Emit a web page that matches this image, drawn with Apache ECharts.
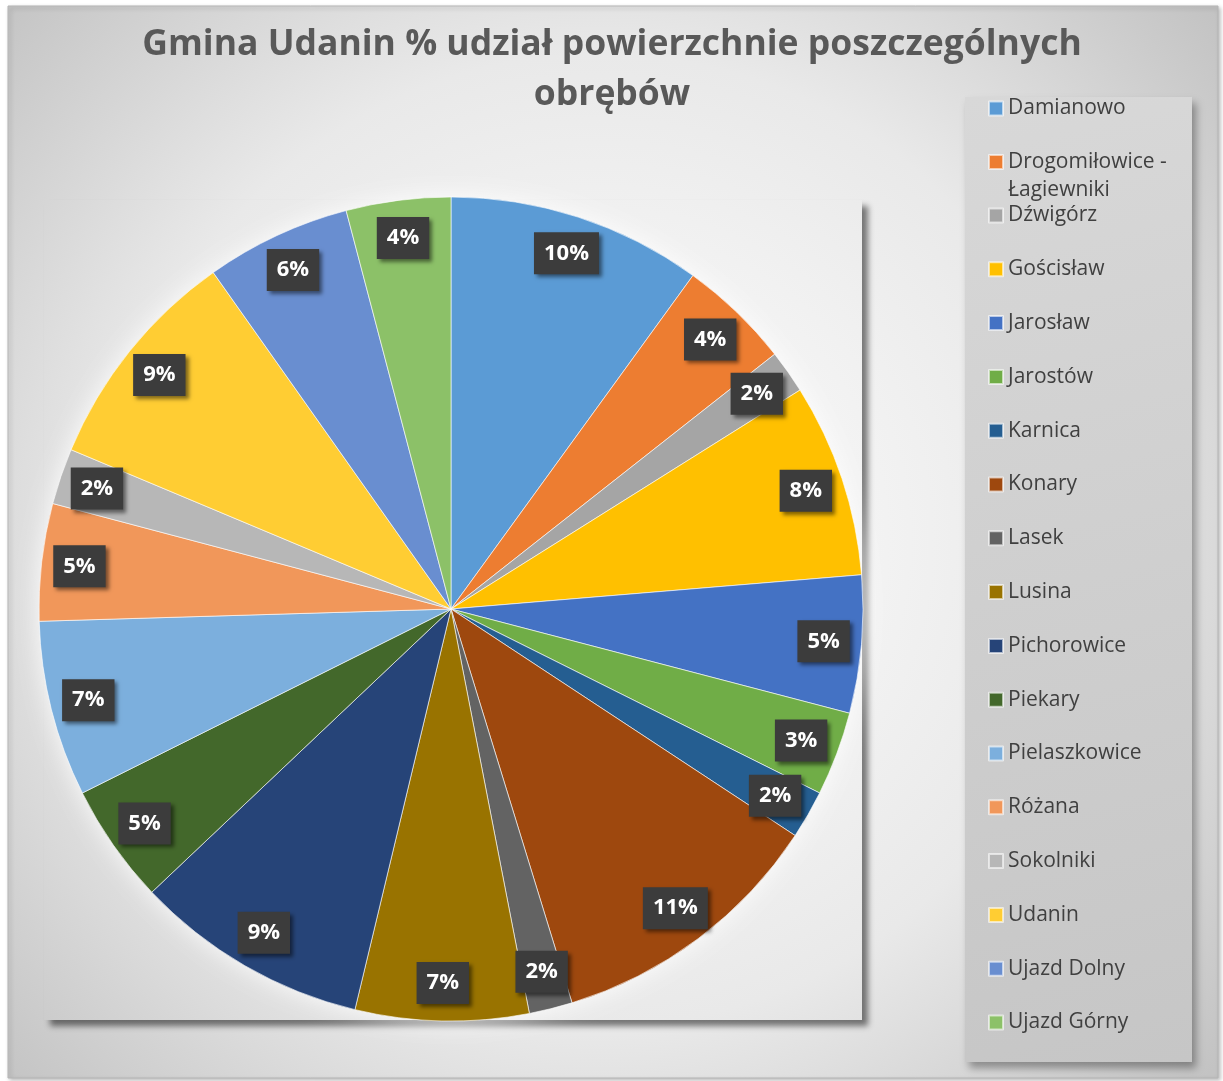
<!DOCTYPE html>
<html>
<head>
<meta charset="utf-8">
<script src="https://cdn.jsdelivr.net/npm/echarts@6/dist/echarts.min.js"></script>
<style>
  html, body { margin: 0; padding: 0; }
  #chart { width: 1223px; height: 1081px; }
</style>
</head>
<body>
<div id="chart"></div>
<script>
// obręby gminy Udanin i ich udział w powierzchni (%)
var names = ['Damianowo', 'Drogomiłowice - Łagiewniki', 'Dźwigórz', 'Gościsław', 'Jarosław', 'Jarostów',
  'Karnica', 'Konary', 'Lasek', 'Lusina', 'Pichorowice', 'Piekary', 'Pielaszkowice', 'Różana',
  'Sokolniki', 'Udanin', 'Ujazd Dolny', 'Ujazd Górny'];
var shares = [10.0, 4.4, 1.7, 7.6, 5.4, 3.3, 1.9, 11.0, 1.7, 6.8, 9.2, 4.7, 6.9, 4.6, 2.2, 8.9, 5.7, 4.1];
var colors = ['#5B9BD5', '#ED7D31', '#A5A5A5', '#FFC000', '#4472C4', '#70AD47', '#255E91', '#9E480E',
  '#636363', '#997300', '#264478', '#43682B', '#7CAFDD', '#F1975A', '#B7B7B7', '#FFCD33', '#698ED0', '#8CC168'];

var pieData = names.map(function (n, i) { return { name: n, value: shares[i] } })

var chart = echarts.init(document.getElementById('chart'))
var font = 'Open Sans'

// wspólny gradient tła (współrzędne globalne)
function bgGradient() {
  return {
    type: 'radial', x: 600, y: 540, r: 810, global: true,
    colorStops: [
      { offset: 0, color: '#ffffff' },
      { offset: 0.6, color: '#e9e9e9' },
      { offset: 1, color: '#c3c3c3' }
    ]
  }
}

var legendText = { fontFamily: font, fontSize: 21, color: '#404040', lineHeight: 20 }

var option = {
  backgroundColor: '#ffffff',
  color: colors,
  title: {
    text: 'Gmina Udanin % udział powierzchnie poszczególnych\nobrębów',
    left: 607, top: 15, textAlign: 'center',
    textStyle: { fontFamily: font, fontSize: 35.5, fontWeight: 'bold', color: '#595959', lineHeight: 50 }
  },
  graphic: [
    { // tło całego obszaru
      type: 'rect', z: -3, silent: true,
      shape: { x: 8, y: 6, width: 1210, height: 1072 },
      style: { fill: bgGradient(), stroke: '#b5b5b5', lineWidth: 1,
        shadowBlur: 4, shadowOffsetX: 2, shadowOffsetY: 2, shadowColor: 'rgba(0,0,0,0.25)' }
    },
    { // obszar wykresu (tylko cień)
      type: 'rect', z: -2, silent: true,
      shape: { x: 44, y: 200, width: 818, height: 820 },
      style: { fill: bgGradient(),
        shadowBlur: 6, shadowOffsetX: 6, shadowOffsetY: 6, shadowColor: 'rgba(0,0,0,0.5)' }
    },
    { // poświata koła
      type: 'circle', z: -1, silent: true,
      shape: { cx: 451, cy: 609, r: 412 },
      style: { fill: '#ffffff', shadowBlur: 25, shadowColor: 'rgba(255,255,255,0.9)' }
    },
    { // tło legendy
      type: 'rect', z: -1, silent: true,
      shape: { x: 965, y: 97, width: 227, height: 965 },
      style: {
        fill: { type: 'linear', x: 0, y: 0, x2: 1, y2: 1,
          colorStops: [{ offset: 0, color: '#d8d8d8' }, { offset: 1, color: '#c6c6c6' }] },
        shadowBlur: 8, shadowOffsetX: 4, shadowOffsetY: 6, shadowColor: 'rgba(0,0,0,0.35)'
      }
    }
  ],
  legend: [
    {
      orient: 'vertical', left: 988, top: 98, padding: 0,
      data: names.slice(0, 1),
      itemWidth: 14, itemHeight: 14, icon: 'rect',
      textStyle: legendText
    },
    { // pozycja dwuwierszowa
      orient: 'vertical', left: 988, top: 120, padding: 0,
      data: names.slice(1, 2),
      itemWidth: 14, itemHeight: 14, icon: 'rect',
      formatter: function (n) { return '\n' + n.replace(' - ', ' -\n') },
      textStyle: { fontFamily: font, fontSize: 21, color: '#404040', lineHeight: 28 }
    },
    {
      orient: 'vertical', left: 988, top: 205, padding: 0,
      data: names.slice(2),
      itemWidth: 14, itemHeight: 14, itemGap: 32.8, icon: 'rect',
      textStyle: legendText
    }
  ],
  series: [
    {
      type: 'pie',
      center: [451, 609],
      radius: [0, 412],
      startAngle: 90,
      data: pieData,
      label: { show: false },
      itemStyle: { borderColor: 'rgba(255,255,255,0.6)', borderWidth: 1 },
      silent: true
    },
    { // etykiety procentowe
      type: 'pie',
      center: [451, 609],
      radius: [330, 412],
      startAngle: 90,
      data: pieData,
      itemStyle: { color: 'rgba(0,0,0,0)' },
      silent: true,
      label: {
        show: true,
        position: 'inside',
        formatter: function (p) { return Math.round(p.percent) + '%' },
        fontFamily: font, fontSize: 22, fontWeight: 'bold', color: '#ffffff', lineHeight: 24,
        backgroundColor: '#3c3c3c',
        padding: [9, 10, 9, 10],
        shadowBlur: 4, shadowOffsetX: 3, shadowOffsetY: 3, shadowColor: 'rgba(0,0,0,0.5)'
      },
      labelLine: { show: false }
    }
  ]
}
chart.setOption(option)
</script>
</body>
</html>
